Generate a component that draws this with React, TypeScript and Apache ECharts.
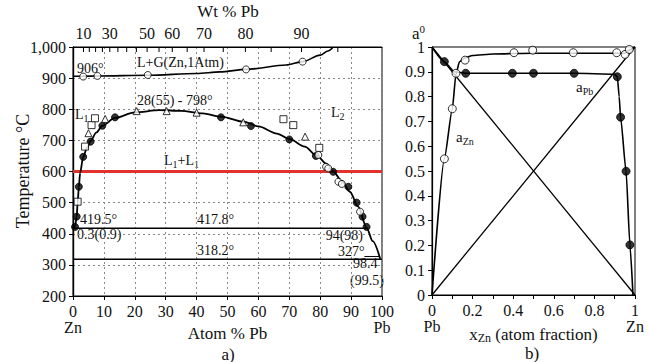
import React, { useEffect, useRef } from "react";
import * as echarts from "echarts";

const FONT = "Liberation Serif";

// ---------- Panel a) Zn–Pb phase diagram ----------
const atomMin = 0;
const atomMax = 100;
const tempMin = 200;
const tempMax = 1000;

// Wt % Pb ticks (top axis) and which get labels
const wtTicks = [10, 15, 20, 25, 30, 35, 40, 45, 50, 55, 60, 65, 70, 75, 80, 85, 90, 95];
const wtLabels = [10, 30, 50, 60, 70, 80, 90];
const M_PB = 207.2;
const M_ZN = 65.38;
const wtToAtom = (w: number) => {
  const a = w / M_PB;
  const b = (100 - w) / M_ZN;
  return (100 * a) / (a + b);
};

// L + G boundary
const gasCurve: [number, number][] = [
  [0, 906], [3.3, 906], [7.9, 907], [24.2, 909], [40, 915], [47.6, 920], [56, 928],
  [69, 942], [74.3, 953], [80, 974], [82.5, 987], [84.2, 1000],
];
const gasPoints: [number, number][] = [
  [3.3, 905], [7.9, 907], [24.2, 910], [56, 928], [74.3, 953],
];

// Miscibility gap / liquidus curve
const domeCurve: [number, number][] = [
  [0.3, 418], [0.65, 425], [1.2, 455], [1.5, 500], [1.9, 550], [2.3, 595], [3.3, 647],
  [4.5, 675], [5.7, 698], [7.5, 725], [9.5, 747], [13.6, 772], [20, 790], [28, 797],
  [35, 795], [42, 787], [48, 776], [55, 760], [60, 745], [66, 722], [70, 705], [75, 680],
  [79, 650], [82, 625], [84.2, 600], [87, 570], [89.6, 535], [92.3, 487], [95, 420],
  [97, 376], [99.4, 320],
];
const domeFilled: [number, number][] = [
  [0.65, 422], [1.2, 455], [1.9, 551], [3.3, 647], [5.7, 696], [9.5, 747], [13.6, 774],
  [47.9, 774], [57.6, 746], [70, 703], [78.6, 650], [84.2, 599], [89.1, 551],
  [91.8, 500], [93.7, 455], [95, 422],
];
const domeOpen: [number, number][] = [
  [79.4, 653], [81.9, 615], [82.6, 610], [85.9, 567], [87, 560], [92.9, 471],
];
const domeSquares: [number, number][] = [
  [1.5, 503], [3.9, 680], [6.0, 749], [7.1, 771], [68.1, 768], [71.3, 749], [79.7, 676],
];
const domeTriangles: [number, number][] = [
  [5.0, 723], [10.4, 769], [20.6, 794], [30.3, 794], [40, 789], [55.1, 758], [75.1, 712],
];

// Isotherms
const isotherms = [
  { T: 417.8, from: 0, to: 95 },
  { T: 318.2, from: 0, to: 100 },
];
const redIsotherm = { T: 600, from: 0, to: 100 };
const leader327 = { T: 327, from: 94.3, to: 99.2 };

// ---------- Panel b) activities ----------
const raoultZn: [number, number][] = [[0, 0], [1, 1]];
const raoultPb: [number, number][] = [[0, 1], [1, 0]];
const aZnCurve: [number, number][] = [
  [0, 0], [0.061, 0.55], [0.1, 0.75], [0.118, 0.89], [0.135, 0.94], [0.16, 0.955],
  [0.2, 0.966], [0.3, 0.972], [0.5, 0.975], [0.7, 0.975], [0.9, 0.975], [0.95, 0.975],
  [0.975, 0.99], [1, 1],
];
const aZnPoints: [number, number][] = [
  [0.061, 0.549], [0.1, 0.751], [0.118, 0.894], [0.163, 0.947], [0.404, 0.977],
  [0.496, 0.987], [0.696, 0.977], [0.91, 0.977], [0.951, 0.97], [0.972, 0.99],
];
const aPbCurve: [number, number][] = [
  [0, 1], [0.061, 0.94], [0.11, 0.9], [0.166, 0.894], [0.5, 0.894], [0.7, 0.894],
  [0.9, 0.89], [0.913, 0.88], [0.922, 0.8], [0.929, 0.717], [0.956, 0.499],
  [0.975, 0.202], [0.99, 0],
];
const aPbPoints: [number, number][] = [
  [0.061, 0.941], [0.166, 0.894], [0.396, 0.894], [0.5, 0.894], [0.7, 0.894],
  [0.913, 0.88], [0.929, 0.717], [0.956, 0.499], [0.975, 0.202],
];

const TXT = "#111";

const richFor = (size: number) => ({
  n: { fontSize: size, fontFamily: FONT, color: TXT, fill: TXT },
  s: { fontSize: Math.round(size * 0.68), fontFamily: FONT, color: TXT, fill: TXT, padding: [8, 0, 0, 0] },
  sup: { fontSize: Math.round(size * 0.62), fontFamily: FONT, color: TXT, fill: TXT, padding: [0, 0, 8, 0] },
});
const R = (t: string) => `{n|${t}}`;

function annotation(text: string, x: number, y: number, size = 14, align = "left", rotation = 0) {
  return {
    type: "text",
    x,
    y,
    rotation,
    silent: true,
    style: {
      text,
      fill: TXT,
      fontSize: size,
      fontFamily: FONT,
      align,
      verticalAlign: "middle",
      rich: richFor(size),
    },
  };
}

export default function App() {
  const ref = useRef<HTMLDivElement>(null);

  useEffect(() => {
    document.body.style.margin = "0";
    if (!ref.current) return;
    const chart = echarts.init(ref.current, undefined, { renderer: "svg" });

    const lineA = (data: [number, number][], color = "#000", width = 1.6, smooth: any = 0.3) => ({
      type: "line",
      xAxisIndex: 0,
      yAxisIndex: 0,
      data,
      smooth,
      smoothMonotone: "x",
      symbol: "none",
      lineStyle: { color, width },
      silent: true,
      z: 3,
    });
    const lineB = (data: [number, number][], width = 1.4, smooth: any = false) => ({
      type: "line",
      xAxisIndex: 2,
      yAxisIndex: 2,
      data,
      smooth,
      smoothMonotone: "x",
      symbol: "none",
      lineStyle: { color: "#000", width },
      silent: true,
      z: 3,
    });
    const scatter = (
      data: [number, number][],
      symbol: string,
      filled: boolean,
      size: number,
      xi: number,
    ) => ({
      type: "scatter",
      xAxisIndex: xi,
      yAxisIndex: xi,
      data,
      symbol,
      symbolSize: size,
      itemStyle: {
        color: filled ? "#000" : "#fff",
        borderColor: "#000",
        borderWidth: 1,
      },
      silent: true,
      z: 5,
    });

    const axisLabelStyle = { fontFamily: FONT, fontSize: 16, color: TXT, rich: richFor(16) };
    const nameStyle = { fontFamily: FONT, fontSize: 17, color: TXT, rich: richFor(17) };
    const dotted = { show: true, lineStyle: { color: "#888", type: [2, 3], width: 1 } };

    const option: any = {
      animation: false,
      backgroundColor: "#fff",
      textStyle: { fontFamily: FONT, color: TXT },
      grid: [
        { left: 73, top: 47, width: 309, height: 249, show: true, borderColor: "#000", borderWidth: 1, backgroundColor: "transparent", outerBoundsMode: "none", containLabel: false },
        { left: 432, top: 47, width: 203, height: 248, show: true, borderColor: "#000", borderWidth: 1, backgroundColor: "transparent", outerBoundsMode: "none", containLabel: false },
      ],
      xAxis: [
        {
          gridIndex: 0,
          type: "value",
          min: atomMin,
          max: atomMax,
          interval: 10,
          axisLine: { show: true, lineStyle: { color: "#000", width: 1.2 } },
          axisTick: { show: true, length: 4, lineStyle: { color: "#000" } },
          axisLabel: {
            ...axisLabelStyle,
            margin: 7,
            lineHeight: 16,
            formatter: (v: number) =>
              v === 0 ? `${R("0")}\n${R("Zn")}` : v === 100 ? `${R("100")}\n${R("Pb")}` : R(String(v)),
          },
          splitLine: dotted,
          name: R("Atom % Pb"),
          nameLocation: "middle",
          nameGap: 29,
          nameMoveOverlap: false,
          nameTextStyle: nameStyle,
        },
        {
          gridIndex: 0,
          type: "value",
          position: "top",
          min: atomMin,
          max: atomMax,
          axisLine: { show: true, lineStyle: { color: "#000", width: 1.2 } },
          axisTick: { show: false },
          axisLabel: { show: false },
          splitLine: { show: false },
        },
        {
          gridIndex: 1,
          type: "value",
          min: 0,
          max: 1,
          interval: 0.1,
          axisLine: { show: true, lineStyle: { color: "#000", width: 1.2 } },
          axisTick: { show: true, length: 4, lineStyle: { color: "#000" } },
          axisLabel: {
            ...axisLabelStyle,
            margin: 7,
            lineHeight: 16,
            formatter: (v: number) => {
              const t = Math.round(v * 10);
              if (t === 0) return `${R("0")}\n${R("Pb")}`;
              if (t === 10) return `${R("1")}\n${R("Zn")}`;
              return t % 2 === 0 ? R(String(t / 10)) : "";
            },
          },
          splitLine: { show: false },
          name: `${R("x")}{s|Zn}${R(" (atom fraction)")}`,
          nameLocation: "middle",
          nameGap: 29,
          nameMoveOverlap: false,
          nameTextStyle: nameStyle,
        },
      ],
      yAxis: [
        {
          gridIndex: 0,
          type: "value",
          min: tempMin,
          max: tempMax,
          interval: 100,
          axisLine: { show: true, lineStyle: { color: "#000", width: 1.2 } },
          axisTick: { show: true, length: 4, lineStyle: { color: "#000" } },
          axisLabel: {
            ...axisLabelStyle,
            margin: 7,
            formatter: (v: number) => R(v >= 1000 ? "1,000" : String(v)),
          },
          splitLine: dotted,
        },
        {
          gridIndex: 0,
          type: "value",
          position: "right",
          min: tempMin,
          max: tempMax,
          axisLine: { show: true, lineStyle: { color: "#000", width: 1.2 } },
          axisTick: { show: false },
          axisLabel: { show: false },
          splitLine: { show: false },
        },
        {
          gridIndex: 1,
          type: "value",
          min: 0,
          max: 1,
          interval: 0.1,
          axisLine: { show: true, lineStyle: { color: "#000", width: 1.2 } },
          axisTick: { show: true, length: 4, lineStyle: { color: "#000" } },
          axisLabel: {
            ...axisLabelStyle,
            margin: 7,
            formatter: (v: number) => {
              const t = Math.round(v * 10);
              return R(t === 0 ? "0" : t === 10 ? "1" : (t / 10).toFixed(1));
            },
          },
          splitLine: { show: false },
        },
      ],
      series: [
        lineA([[redIsotherm.from, redIsotherm.T], [redIsotherm.to, redIsotherm.T]], "#e2322b", 3, false),
        ...isotherms.map((iso) => lineA([[iso.from, iso.T], [iso.to, iso.T]], "#000", 1.6, false)),
        lineA([[leader327.from, leader327.T], [leader327.to, leader327.T]], "#000", 1, false),
        lineA(gasCurve, "#000", 1.6, 0.3),
        lineA(domeCurve, "#000", 1.8, 0.3),
        scatter(gasPoints, "circle", false, 7, 0),
        scatter(domeFilled, "circle", true, 7, 0),
        scatter(domeOpen, "circle", false, 7, 0),
        scatter(domeSquares, "rect", false, 7, 0),
        scatter(domeTriangles, "triangle", false, 7, 0),
        {
          type: "custom",
          xAxisIndex: 0,
          yAxisIndex: 0,
          clip: false,
          silent: true,
          data: wtTicks.map((w) => [wtToAtom(w), tempMax, w]),
          renderItem: (params: any, api: any) => {
            const p = api.coord([api.value(0), tempMax]);
            const w = api.value(2);
            const children: any[] = [
              {
                type: "line",
                shape: { x1: p[0], y1: p[1], x2: p[0], y2: p[1] + 5 },
                style: { stroke: "#000", lineWidth: 1 },
              },
            ];
            if (wtLabels.indexOf(w) >= 0) {
              children.push({
                type: "text",
                x: p[0],
                y: p[1] - 14,
                style: {
                  text: R(String(w)),
                  rich: richFor(16),
                  fill: TXT,
                  fontSize: 16,
                  fontFamily: FONT,
                  align: "center",
                  verticalAlign: "middle",
                },
              });
            }
            return { type: "group", children };
          },
          z: 6,
        },
        lineB(raoultZn, 1.3),
        lineB(raoultPb, 1.3),
        lineB(aZnCurve, 1.6, 0.2),
        lineB(aPbCurve, 1.6, 0.2),
        scatter(aZnPoints, "circle", false, 8, 2),
        scatter(aPbPoints, "circle", true, 8, 2),
      ],
      graphic: [
        annotation(R("Wt % Pb"), 228, 11, 17, "center"),
        annotation(R("Temperature °C"), 23, 171, 18, "center", Math.PI / 2),
        annotation("906°", 77, 68),
        annotation("L+G(Zn,1Atm)", 137, 62),
        annotation("28(55) - 798°", 137, 100),
        annotation("L{s|1}", 75, 114),
        annotation("L{s|2}", 331, 112),
        annotation("L{s|1}+L{s|1}", 164, 160),
        annotation("419.5°", 80, 219),
        annotation("0.3(0.9)", 77, 234),
        annotation("417.8°", 197, 219),
        annotation("318.2°", 197, 250),
        annotation("94(98)", 363, 235, 14, "right"),
        annotation("327°", 338, 251),
        annotation("98.4", 353, 263),
        annotation("(99.5)", 350, 280),
        annotation("a)", 228, 354, 17, "center"),
        annotation("b)", 532, 353, 17, "center"),
        annotation("a{sup|0}", 412, 33, 17),
        annotation("a{s|Pb}", 576, 87, 15),
        annotation("a{s|Zn}", 456, 137, 15),
      ],
    };

    chart.setOption(option);
    return () => chart.dispose();
  }, []);

  return (
    <div
      ref={ref}
      style={{ position: "fixed", left: 0, top: 0, width: 648, height: 362, background: "#fff" }}
    />
  );
}
